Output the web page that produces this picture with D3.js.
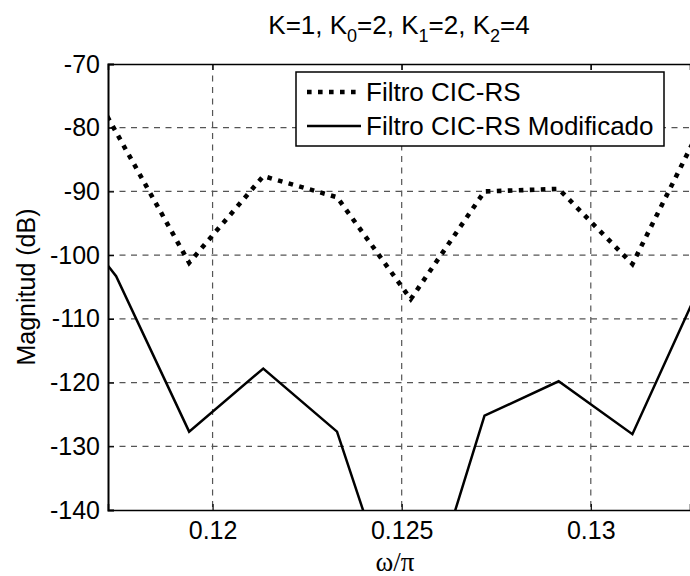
<!DOCTYPE html>
<html><head><meta charset="utf-8">
<script src="https://cdn.jsdelivr.net/npm/d3@7"></script>
<style>body{margin:0;background:#fff}svg{display:block}</style>
</head><body><svg id="c" width="690" height="576" font-family='"Liberation Sans",Arial,Helvetica,sans-serif'></svg>
<script>
// data
const freq = [0.11550, 0.11745, 0.11938, 0.12134, 0.12329, 0.12524, 0.12719, 0.12915, 0.13110, 0.13305];
const cicRS = [-60.2, -80.7, -101.2, -87.6, -90.9, -106.9, -90.0, -89.6, -101.4, -78.2];
const cicRSMod = [-88.5, -103.3, -127.7, -117.8, -127.7, -162.6, -125.2, -119.8, -128.1, -102.7];
const xLimits = [0.117235, 0.132623];
const yLimits = [-140, -70];
const xTicks = [0.12, 0.125, 0.13];
const yTicks = [-140, -130, -120, -110, -100, -90, -80, -70];
const seriesNames = ["Filtro CIC-RS", "Filtro CIC-RS Modificado"];

const svg = d3.select("#c");
const W = 690, H = 576;
const m = {top: 64, right: 0, bottom: 66, left: 108};
const iw = W - m.left - m.right, ih = H - m.top - m.bottom;
const x = d3.scaleLinear().domain(xLimits).range([0, iw]);
const y = d3.scaleLinear().domain(yLimits).range([ih, 0]);
const g = svg.append("g").attr("transform", `translate(${m.left},${m.top})`);
const FS = 25, FL = 26;
const SANS = '"Liberation Sans",Arial,Helvetica,sans-serif';

// grid
g.append("g").selectAll("line").data(xTicks).join("line")
  .attr("x1", d => x(d)).attr("x2", d => x(d)).attr("y1", 0).attr("y2", ih)
  .attr("stroke", "#555").attr("stroke-width", 1.2).attr("stroke-dasharray", "6,5.5");
g.append("g").selectAll("line").data(yTicks.filter(d => d > yLimits[0] && d < yLimits[1])).join("line")
  .attr("x1", 0).attr("x2", iw).attr("y1", d => y(d)).attr("y2", d => y(d))
  .attr("stroke", "#555").attr("stroke-width", 1.2).attr("stroke-dasharray", "6,5.5");

// clip
svg.append("defs").append("clipPath").attr("id", "clp").append("rect")
  .attr("x", 0).attr("y", 0).attr("width", iw).attr("height", ih);

const line = d3.line().x((d, i) => x(freq[i])).y(d => y(d));
const plot = g.append("g").attr("clip-path", "url(#clp)");
plot.append("path").datum(cicRSMod).attr("d", line).attr("fill", "none")
  .attr("stroke", "#000").attr("stroke-width", 2.5).attr("stroke-linejoin", "miter");
plot.append("path").datum(cicRS).attr("d", line).attr("fill", "none")
  .attr("stroke", "#000").attr("stroke-width", 4.6).attr("stroke-dasharray", "4.6,6.4");

// axes
const xb = d3.axisBottom(x).tickValues(xTicks).tickSize(-6).tickPadding(11).tickFormat(d => String(d));
const xt = d3.axisTop(x).tickValues(xTicks).tickSize(-6).tickFormat("");
const yl = d3.axisLeft(y).tickValues(yTicks).tickSize(-6).tickPadding(8).tickFormat(d => String(d));
const ax1 = g.append("g").attr("transform", `translate(0,${ih})`).call(xb);
const ax2 = g.append("g").call(xt);
const ax3 = g.append("g").call(yl);
[ax1, ax2, ax3].forEach(a => {
  a.attr("font-family", SANS).attr("font-size", FS);
  a.select(".domain").attr("stroke", "#000").attr("stroke-width", 1.6);
  a.selectAll(".tick line").attr("stroke", "#000").attr("stroke-width", 1.2);
  a.selectAll("text").attr("fill", "#000");
});
ax1.selectAll(".tick text").attr("dy", "0.71em");
ax3.select(".domain").attr("stroke-width", 2);

// axis labels
svg.append("text").attr("x", m.left + iw / 2 - 4).attr("y", 571).attr("text-anchor", "middle")
  .attr("font-size", 27).attr("font-family", '"Liberation Serif","Times New Roman",serif').text("ω/π");
svg.append("text").attr("transform", `translate(35,${m.top + ih / 2}) rotate(-90)`).attr("text-anchor", "middle")
  .attr("font-size", FS).text("Magnitud (dB)");

// title
const t = svg.append("text").attr("x", m.left + iw / 2).attr("y", 34).attr("text-anchor", "middle").attr("font-size", FL);
const parts = [["K=1, K", null], ["0", "s"], ["=2, K", null], ["1", "s"], ["=2, K", null], ["2", "s"], ["=4", null]];
parts.forEach((p, i) => {
  const ts = t.append("tspan").text(p[0]);
  if (p[1]) ts.attr("font-size", 18).attr("dy", 8);
  else if (i > 0) ts.attr("dy", -8);
});

// legend
const lg = g.append("g");
lg.append("rect").attr("x", 296 - m.left).attr("y", 72 - m.top).attr("width", 368).attr("height", 74)
  .attr("fill", "#fff").attr("stroke", "#000").attr("stroke-width", 1.5);
const rows = [{name: seriesNames[0], dash: "4.6,6.4", w: 4.6}, {name: seriesNames[1], dash: null, w: 2.5}];
rows.forEach((r, i) => {
  const cy = 92 + i * 34 - m.top;
  const l = lg.append("line").attr("x1", 307 - m.left).attr("x2", 361 - m.left).attr("y1", cy).attr("y2", cy)
    .attr("stroke", "#000").attr("stroke-width", r.w);
  if (r.dash) l.attr("stroke-dasharray", r.dash);
  lg.append("text").attr("x", 366 - m.left).attr("y", cy).attr("dy", "0.36em").attr("font-size", FL).text(r.name);
});
</script></body></html>
